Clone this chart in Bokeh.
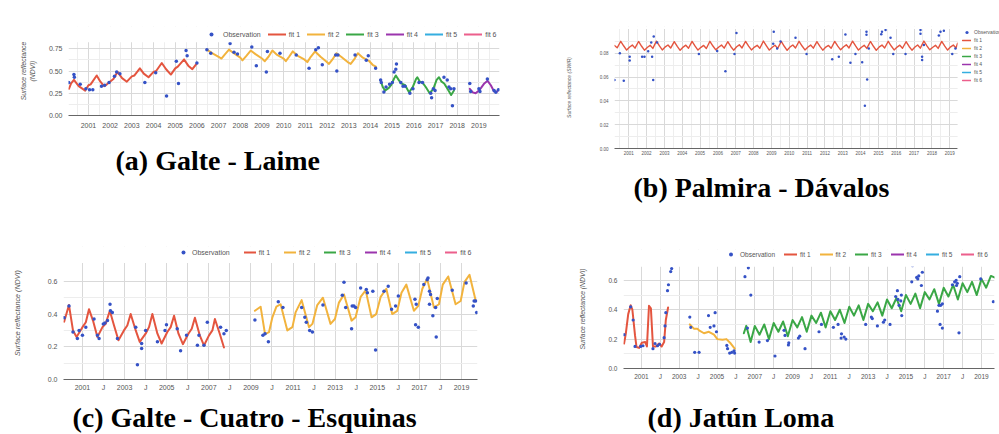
from bokeh.plotting import figure
from bokeh.layouts import column, row
from bokeh.models import Range1d, FixedTicker, Legend, LegendItem, BoxAnnotation
from bokeh.core.properties import value
from bokeh.embed import file_html
from bokeh.resources import INLINE

NAN = float("nan")
OBS_COLOR = "#3552c6"
FIT_COLORS = ["#e4553f", "#f2b33d", "#3aa746", "#9b35ad", "#35aee0", "#ec5f8c"]
FIT_LABELS = ["fit 1", "fit 2", "fit 3", "fit 4", "fit 5", "fit 6"]
YEARS = list(range(2001, 2020))
YEAR_LABELS_FULL = [str(y) for y in YEARS]
YEAR_LABELS_ALT = ["2001", "J", "2003", "J", "2005", "J", "2007", "J", "2009", "J",
                   "2011", "J", "2013", "J", "2015", "J", "2017", "J", "2019"]

# ---------------- (a) Galte - Laime ----------------
A_TITLE = "(a)  Galte - Laime"
A_YLABEL = "Surface reflectance\n(NDVI)"
A_YTICKS = [0.0, 0.25, 0.5, 0.75]
A_YTICK_LABELS = ["0.00", "0.25", "0.50", "0.75"]
A_FIT1_T = [2000.10, 2000.20, 2000.33, 2000.55, 2000.85, 2001.00, 2001.10, 2001.38, 2001.55, 2001.72,
            2001.85, 2002.05, 2002.15, 2002.34, 2002.55, 2002.77, 2003.00, 2003.12, 2003.37, 2003.55,
            2003.77, 2004.00, 2004.12, 2004.38, 2004.58, 2004.80, 2005.00, 2005.12, 2005.41, 2005.60,
            2005.79, 2005.98]
A_FIT1_V = [0.30, 0.36, 0.40, 0.33, 0.28, 0.34, 0.35, 0.45, 0.38, 0.33,
            0.35, 0.39, 0.41, 0.49, 0.42, 0.38, 0.44, 0.45, 0.53, 0.47,
            0.43, 0.49, 0.50, 0.59, 0.52, 0.46, 0.53, 0.55, 0.63, 0.56,
            0.52, 0.58]
A_FIT2_T = [2006.46, 2006.70, 2007.00, 2007.13, 2007.30, 2007.48, 2007.70, 2008.00, 2008.10, 2008.28,
            2008.48, 2008.70, 2009.00, 2009.13, 2009.30, 2009.48, 2009.70, 2010.00, 2010.10, 2010.25,
            2010.42, 2010.65, 2010.95, 2011.09, 2011.25, 2011.45, 2011.70, 2011.95, 2012.09, 2012.25,
            2012.43, 2012.65, 2012.95, 2013.09, 2013.25, 2013.42, 2013.65, 2013.95, 2014.10, 2014.25]
A_FIT2_V = [0.74, 0.70, 0.66, 0.64, 0.69, 0.74, 0.70, 0.65, 0.62, 0.67,
            0.73, 0.69, 0.64, 0.61, 0.66, 0.73, 0.68, 0.64, 0.61, 0.66,
            0.72, 0.67, 0.63, 0.60, 0.66, 0.72, 0.66, 0.61, 0.58, 0.63,
            0.70, 0.66, 0.60, 0.58, 0.63, 0.70, 0.65, 0.61, 0.57, 0.55]
A_FIT3_T = [2014.47, 2014.57, 2014.67, 2014.85, 2014.95, 2015.10, 2015.17, 2015.30, 2015.42, 2015.60,
            2015.78, 2015.95, 2016.10, 2016.16, 2016.28, 2016.40, 2016.55, 2016.73, 2016.90, 2017.05,
            2017.16, 2017.28, 2017.40, 2017.55, 2017.72, 2017.85]
A_FIT3_V = [0.39, 0.32, 0.28, 0.31, 0.34, 0.42, 0.45, 0.40, 0.36, 0.34,
            0.26, 0.32, 0.41, 0.43, 0.38, 0.37, 0.32, 0.25, 0.30, 0.40,
            0.43, 0.38, 0.36, 0.30, 0.23, 0.28]
A_FIT4_T = [2018.58, 2018.72, 2018.85, 2019.00, 2019.10, 2019.25, 2019.40, 2019.55, 2019.70, 2019.85]
A_FIT4_V = [0.30, 0.26, 0.25, 0.28, 0.31, 0.36, 0.39, 0.34, 0.27, 0.27]
A_OBS_T = [2000.09, 2000.33, 2000.35, 2000.62, 2000.88, 2001.05, 2001.20, 2001.60, 2001.75, 2001.95,
           2002.20, 2002.30, 2002.45, 2003.60, 2004.10, 2004.60, 2005.05, 2005.15, 2005.50, 2005.55,
           2006.00,
           2006.46, 2006.64, 2007.53, 2007.71, 2007.87, 2008.53, 2008.74, 2009.20, 2009.25, 2009.83,
           2010.58, 2011.17, 2011.48, 2011.60, 2011.78, 2012.40, 2012.45, 2012.50, 2013.29, 2013.81,
           2013.90, 2014.24,
           2014.47, 2014.50, 2014.62, 2014.72, 2014.88, 2015.01, 2015.09, 2015.17, 2015.20, 2015.40,
           2015.50, 2015.60, 2015.82, 2015.96, 2016.24, 2016.40, 2016.78, 2016.82, 2016.90, 2016.98,
           2017.39, 2017.54, 2017.62, 2017.70, 2017.85, 2017.78,
           2018.58, 2018.62, 2019.00, 2019.05, 2019.39, 2019.70, 2019.78, 2019.90]
A_OBS_V = [0.37, 0.46, 0.43, 0.35, 0.30, 0.29, 0.29, 0.33, 0.34, 0.37,
           0.44, 0.49, 0.47, 0.37, 0.48, 0.22, 0.61, 0.36, 0.73, 0.67,
           0.59,
           0.74, 0.70, 0.81, 0.71, 0.69, 0.77, 0.56, 0.49, 0.72, 0.70,
           0.68, 0.53, 0.74, 0.76, 0.57, 0.68, 0.50, 0.68, 0.68, 0.62,
           0.67, 0.53,
           0.40, 0.37, 0.265, 0.32, 0.35, 0.37, 0.49, 0.52, 0.58, 0.37,
           0.33, 0.33, 0.25, 0.30, 0.37, 0.37, 0.25, 0.20, 0.30, 0.28,
           0.43, 0.40, 0.32, 0.30, 0.30, 0.11,
           0.36, 0.27, 0.30, 0.27, 0.41, 0.28, 0.26, 0.29]

# ---------------- (b) Palmira - Dávalos ----------------
B_TITLE = "(b) Palmira - Dávalos"
B_YLABEL = "Surface reflectance (SWIR)"
B_YTICKS = [0.0, 0.02, 0.04, 0.06, 0.08]
B_YTICK_LABELS = ["0.00", "0.02", "0.04", "0.06", "0.08"]
B_FIT1_T = [2000.20, 2000.35, 2000.55, 2000.72, 2000.88,
            2001.05, 2001.20, 2001.35, 2001.55, 2001.72, 2001.88,
            2002.05, 2002.20, 2002.35, 2002.55, 2002.72, 2002.88,
            2003.05, 2003.20, 2003.35, 2003.55, 2003.72, 2003.88,
            2004.05, 2004.20, 2004.35, 2004.55, 2004.72, 2004.88,
            2005.05, 2005.20, 2005.35, 2005.55, 2005.72, 2005.88,
            2006.05, 2006.20, 2006.35, 2006.55, 2006.72, 2006.88,
            2007.05, 2007.20, 2007.35, 2007.55, 2007.72, 2007.88,
            2008.05, 2008.20, 2008.35, 2008.55, 2008.72, 2008.88,
            2009.05, 2009.20, 2009.35, 2009.55, 2009.72, 2009.88,
            2010.05, 2010.20, 2010.35, 2010.55, 2010.72, 2010.88,
            2011.05, 2011.20, 2011.35, 2011.55, 2011.72, 2011.88,
            2012.05, 2012.20, 2012.35, 2012.55, 2012.72, 2012.88,
            2013.05, 2013.20, 2013.35, 2013.55, 2013.72, 2013.88,
            2014.05, 2014.20, 2014.35, 2014.55, 2014.72, 2014.88,
            2015.05, 2015.20, 2015.35, 2015.55, 2015.72, 2015.88,
            2016.05, 2016.20, 2016.35, 2016.55, 2016.72, 2016.88,
            2017.05, 2017.20, 2017.35, 2017.55, 2017.72, 2017.88,
            2018.05, 2018.20, 2018.35, 2018.55, 2018.72, 2018.88,
            2019.05, 2019.20, 2019.35, 2019.44]
B_FIT1_V = [0.0866, 0.0846, 0.0901, 0.0861, 0.0827,
            0.0853, 0.0869, 0.0843, 0.0899, 0.0859, 0.0826,
            0.0851, 0.0867, 0.0841, 0.0902, 0.0862, 0.0828,
            0.0854, 0.0870, 0.0844, 0.0898, 0.0858, 0.0825,
            0.0852, 0.0868, 0.0842, 0.0900, 0.0860, 0.0827,
            0.0850, 0.0866, 0.0840, 0.0901, 0.0861, 0.0829,
            0.0853, 0.0869, 0.0843, 0.0897, 0.0857, 0.0826,
            0.0855, 0.0871, 0.0845, 0.0900, 0.0860, 0.0828,
            0.0852, 0.0867, 0.0842, 0.0903, 0.0863, 0.0827,
            0.0851, 0.0868, 0.0841, 0.0899, 0.0859, 0.0825,
            0.0854, 0.0870, 0.0844, 0.0901, 0.0861, 0.0828,
            0.0853, 0.0869, 0.0843, 0.0898, 0.0858, 0.0826,
            0.0852, 0.0866, 0.0842, 0.0900, 0.0860, 0.0829,
            0.0855, 0.0871, 0.0845, 0.0902, 0.0862, 0.0827,
            0.0851, 0.0867, 0.0841, 0.0899, 0.0859, 0.0825,
            0.0854, 0.0869, 0.0844, 0.0901, 0.0861, 0.0828,
            0.0852, 0.0868, 0.0842, 0.0897, 0.0857, 0.0826,
            0.0853, 0.0870, 0.0843, 0.0903, 0.0863, 0.0829,
            0.0851, 0.0867, 0.0841, 0.0900, 0.0860, 0.0827,
            0.0854, 0.0869, 0.0844, 0.0885]
B_OBS_T = [2000.20, 2000.50, 2000.72, 2001.05, 2001.05, 2001.75, 2001.88, 2002.09, 2002.26, 2002.40,
           2002.31, 2002.37, 2002.59, 2004.93, 2005.96, 2006.42, 2006.93, 2007.04, 2009.13, 2009.10,
           2009.32, 2009.51, 2010.35, 2010.97, 2012.41, 2012.78, 2013.15, 2013.43, 2013.71, 2014.09,
           2014.33, 2014.33, 2014.37, 2014.46, 2014.24, 2015.16, 2015.20, 2015.40, 2015.68, 2015.83,
           2016.52, 2017.36, 2017.36, 2017.45, 2017.45, 2017.55, 2018.39, 2018.48, 2018.67, 2019.14,
           2019.32]
B_OBS_V = [0.0576, 0.080, 0.057, 0.077, 0.074, 0.077, 0.077, 0.0817, 0.089, 0.094,
           0.077, 0.0576, 0.089, 0.0795, 0.082, 0.065, 0.0795, 0.097, 0.098, 0.088,
           0.084, 0.090, 0.093, 0.0795, 0.075, 0.077, 0.0957, 0.072, 0.0795, 0.0724,
           0.098, 0.0955, 0.058, 0.084, 0.036, 0.096, 0.098, 0.0995, 0.093, 0.0795,
           0.0795, 0.0995, 0.0965, 0.077, 0.0744, 0.087, 0.095, 0.098, 0.099, 0.0795,
           0.084]

# ---------------- (c) Galte - Cuatro - Esquinas ----------------
C_TITLE = "(c) Galte - Cuatro - Esquinas"
C_YLABEL = "Surface reflectance (NDVI)"
C_YTICKS = [0.0, 0.2, 0.4, 0.6]
C_YTICK_LABELS = ["0.0", "0.2", "0.4", "0.6"]
C_FIT1_T = [2000.13, 2000.36, 2000.55, 2000.72, 2001.00, 2001.16, 2001.31, 2001.50, 2001.71, 2001.95,
            2002.10, 2002.30, 2002.50, 2002.71, 2002.97, 2003.13, 2003.29, 2003.53, 2003.72, 2004.00,
            2004.16, 2004.32, 2004.56, 2004.76, 2005.03, 2005.19, 2005.35, 2005.56, 2005.77, 2006.03,
            2006.19, 2006.34, 2006.57, 2006.77, 2007.01, 2007.17, 2007.29, 2007.52, 2007.72]
C_FIT1_V = [0.353, 0.455, 0.30, 0.26, 0.32, 0.35, 0.43, 0.36, 0.26, 0.32,
            0.34, 0.42, 0.33, 0.24, 0.30, 0.33, 0.40, 0.30, 0.23, 0.28,
            0.32, 0.40, 0.28, 0.22, 0.29, 0.32, 0.39, 0.28, 0.216, 0.28,
            0.31, 0.378, 0.27, 0.208, 0.27, 0.30, 0.37, 0.28, 0.196]
C_FIT2_T = [2009.19, 2009.46, 2009.67, 2009.86, 2010.02, 2010.21, 2010.41, 2010.73, 2010.97, 2011.12,
            2011.41, 2011.76, 2011.92, 2012.15, 2012.42, 2012.78, 2012.99, 2013.18, 2013.42, 2013.78,
            2013.97, 2014.21, 2014.45, 2014.73, 2014.95, 2015.16, 2015.43, 2015.71, 2015.95, 2016.15,
            2016.38, 2016.74, 2016.95, 2017.14, 2017.37, 2017.69, 2017.93, 2018.11, 2018.37, 2018.72,
            2018.96, 2019.14, 2019.38, 2019.67]
C_FIT2_V = [0.42, 0.445, 0.277, 0.29, 0.38, 0.445, 0.46, 0.30, 0.32, 0.41,
            0.485, 0.32, 0.34, 0.455, 0.50, 0.34, 0.37, 0.47, 0.52, 0.36,
            0.38, 0.505, 0.545, 0.38, 0.40, 0.505, 0.555, 0.40, 0.42, 0.53,
            0.58, 0.42, 0.45, 0.555, 0.615, 0.44, 0.46, 0.58, 0.63, 0.46,
            0.48, 0.595, 0.64, 0.485]
C_OBS_T = [2000.13, 2000.36, 2000.55, 2000.76, 2000.84, 2001.00, 2001.16, 2001.55, 2001.71, 2001.79,
           2001.99, 2002.07, 2002.19, 2002.31, 2002.33, 2002.42, 2002.66, 2003.53, 2003.81, 2003.81,
           2003.61, 2004.00, 2004.56, 2004.92, 2004.99, 2005.50, 2005.66, 2005.94, 2006.46, 2006.53,
           2006.77, 2006.93, 2007.56, 2007.72, 2007.83,
           2009.19, 2009.57, 2009.67, 2009.83, 2010.30, 2010.52, 2011.41, 2011.56, 2011.63, 2011.79,
           2011.92, 2012.42, 2013.34, 2013.42, 2013.50, 2013.78, 2013.81, 2013.89, 2013.97, 2014.21,
           2014.48, 2014.53, 2014.79, 2014.92, 2015.32, 2015.52, 2015.68, 2015.87, 2016.00, 2016.79,
           2016.82, 2016.95, 2016.85, 2017.21, 2017.37, 2017.41, 2017.48, 2017.53, 2017.48, 2017.64,
           2017.77, 2017.80, 2017.85, 2018.56, 2019.22, 2019.56, 2019.60, 2019.67, 2019.72]
C_OBS_V = [0.378, 0.45, 0.29, 0.25, 0.30, 0.27, 0.32, 0.37, 0.27, 0.25,
           0.34, 0.345, 0.36, 0.46, 0.42, 0.41, 0.25, 0.32, 0.22, 0.19,
           0.09, 0.30, 0.23, 0.30, 0.335, 0.31, 0.175, 0.27, 0.21, 0.27,
           0.21, 0.35, 0.32, 0.28, 0.30,
           0.364, 0.27, 0.28, 0.23, 0.475, 0.44, 0.44, 0.38, 0.35, 0.30,
           0.29, 0.455, 0.515, 0.595, 0.44, 0.31, 0.45, 0.45, 0.44, 0.56,
           0.55, 0.53, 0.54, 0.18, 0.54, 0.57, 0.43, 0.45, 0.51, 0.49,
           0.335, 0.32, 0.46, 0.58, 0.61, 0.62, 0.54, 0.52, 0.46, 0.39,
           0.44, 0.26, 0.495, 0.545, 0.59, 0.45, 0.48, 0.48, 0.41]

# ---------------- (d) Jatún Loma ----------------
D_TITLE = "(d) Jatún Loma"
D_YLABEL = "Surface reflectance (NDVI)"
D_YTICKS = [0.0, 0.2, 0.4, 0.6]
D_YTICK_LABELS = ["0.0", "0.2", "0.4", "0.6"]
D_FIT1_T = [2000.08, 2000.17, 2000.30, 2000.43, 2000.52, 2000.66, 2000.74, 2000.87, 2001.02, 2001.20,
            2001.29, 2001.40, 2001.50, 2001.61, 2001.76, 2001.93, 2002.07, 2002.20, 2002.29, 2002.41]
D_FIT1_V = [0.17, 0.236, 0.37, 0.43, 0.40, 0.225, 0.146, 0.14, 0.175, 0.18,
            0.15, 0.427, 0.41, 0.15, 0.15, 0.17, 0.15, 0.18, 0.33, 0.415]
D_FIT2_T = [2003.56, 2003.79, 2003.96, 2004.05, 2004.31, 2004.57, 2004.84, 2005.02, 2005.29, 2005.50,
            2005.73, 2005.94]
D_FIT2_V = [0.30, 0.27, 0.27, 0.26, 0.24, 0.25, 0.23, 0.20, 0.195, 0.20,
            0.17, 0.135]
D_FIT3_T = [2006.42, 2006.55, 2006.78,
            2007.00, 2007.25, 2007.50, 2007.75, 2008.00, 2008.25, 2008.50, 2008.75,
            2009.00, 2009.25, 2009.50, 2009.75, 2010.00, 2010.25, 2010.50, 2010.75,
            2011.00, 2011.25, 2011.50, 2011.75, 2012.00, 2012.25, 2012.50, 2012.75,
            2013.00, 2013.25, 2013.50, 2013.75, 2014.00, 2014.25, 2014.50, 2014.75,
            2015.00, 2015.25, 2015.50, 2015.75, 2016.00, 2016.25, 2016.50, 2016.75,
            2017.00, 2017.25, 2017.50, 2017.75, 2018.00, 2018.25, 2018.50, 2018.75,
            2019.00, 2019.25, 2019.50, 2019.68]
D_FIT3_V = [0.24, 0.29, 0.18,
            0.29, 0.23, 0.30, 0.20, 0.31, 0.25, 0.32, 0.22,
            0.33, 0.28, 0.35, 0.25, 0.36, 0.31, 0.38, 0.28,
            0.39, 0.33, 0.40, 0.31, 0.42, 0.36, 0.43, 0.33,
            0.44, 0.39, 0.45, 0.36, 0.47, 0.41, 0.48, 0.39,
            0.50, 0.44, 0.51, 0.41, 0.52, 0.47, 0.54, 0.44,
            0.55, 0.49, 0.57, 0.47, 0.58, 0.52, 0.59, 0.50,
            0.61, 0.55, 0.63, 0.62]
D_OBS_T = [2000.08, 2000.43, 2000.56, 2000.66, 2000.96, 2001.08, 2001.61, 2001.72, 2001.85, 2001.96,
           2002.20, 2002.25, 2002.29, 2002.38, 2002.43, 2002.55, 2002.60,
           2003.56, 2003.61, 2003.82, 2004.05, 2004.55, 2004.64, 2004.84, 2004.90, 2004.97, 2005.52,
           2005.56, 2005.67, 2005.78, 2005.90, 2005.93,
           2006.48, 2006.66, 2006.79, 2006.61, 2007.23, 2007.67, 2008.07, 2008.55, 2008.60, 2008.78,
           2008.80, 2009.31, 2009.38, 2009.66, 2010.40, 2010.53, 2011.16, 2011.41, 2011.59, 2011.57,
           2011.73, 2011.82, 2012.87, 2013.17, 2013.22, 2013.49, 2013.81, 2013.88, 2014.16, 2014.46,
           2014.55, 2014.58, 2014.64, 2014.73, 2014.76, 2014.78, 2015.35, 2015.31, 2015.57, 2015.63,
           2015.68, 2015.82, 2015.87, 2016.67, 2016.75, 2016.84, 2016.93, 2016.81, 2016.93, 2017.46,
           2017.58, 2017.66, 2017.72, 2017.68, 2017.81, 2017.85, 2018.96, 2019.63]
D_OBS_V = [0.23, 0.42, 0.33, 0.15, 0.15, 0.155, 0.135, 0.17, 0.155, 0.165,
           0.21, 0.29, 0.38, 0.53, 0.57, 0.66, 0.68,
           0.35, 0.28, 0.11, 0.11, 0.36, 0.28, 0.29, 0.38, 0.25, 0.157,
           0.135, 0.105, 0.11, 0.12, 0.105,
           0.625, 0.685, 0.50, 0.275, 0.18, 0.19, 0.085, 0.26, 0.225, 0.16,
           0.175, 0.207, 0.22, 0.135, 0.25, 0.30, 0.28, 0.30, 0.236, 0.207,
           0.214, 0.20, 0.30, 0.35, 0.34, 0.29, 0.315, 0.33, 0.30, 0.49,
           0.53, 0.47, 0.43, 0.46, 0.50, 0.36, 0.70, 0.59, 0.62, 0.61,
           0.63, 0.565, 0.655, 0.39, 0.43, 0.43, 0.44, 0.30, 0.275, 0.57,
           0.59, 0.60, 0.58, 0.565, 0.243, 0.625, 0.61, 0.455]

HALF_YEARS = [2000.5, 2001.5, 2002.5, 2003.5, 2004.5, 2005.5, 2006.5, 2007.5, 2008.5, 2009.5,
              2010.5, 2011.5, 2012.5, 2013.5, 2014.5, 2015.5, 2016.5, 2017.5, 2018.5, 2019.5]


def build(cfg):
    p = figure(width=cfg["w"], height=cfg["h"],
               x_range=Range1d(*cfg["xr"]), y_range=Range1d(*cfg["yr"]),
               output_backend="svg", toolbar_location=None,
               min_border_left=cfg["bl"], min_border_right=cfg["br"],
               min_border_top=cfg["bt"], min_border_bottom=cfg["bb"])
    p.outline_line_color = None
    p.background_fill_color = "white"
    p.border_fill_color = "white"

    xa = p.xaxis[0]
    xa.ticker = FixedTicker(ticks=YEARS)
    xa.major_label_overrides = {y: l for y, l in zip(YEARS, cfg["xlabels"])}
    xa.bounds = cfg["xbounds"]
    xa.axis_line_color = "#666666"
    xa.axis_line_width = 1
    xa.major_tick_line_color = None
    xa.minor_tick_line_color = None
    xa.major_tick_out = 0
    xa.major_tick_in = 0
    xa.minor_tick_out = 0
    xa.major_label_standoff = cfg["xstand"]
    xa.major_label_text_font = "Liberation Sans"
    xa.major_label_text_font_size = cfg["tick_fs"]
    xa.major_label_text_color = "#555555"

    ya = p.yaxis[0]
    ya.ticker = FixedTicker(ticks=cfg["yticks"])
    ya.major_label_overrides = {t: l for t, l in zip(cfg["yticks"], cfg["yticklabels"])}
    ya.bounds = (0, cfg["ytop"])
    ya.axis_line_color = None
    ya.major_tick_line_color = None
    ya.minor_tick_line_color = None
    ya.major_tick_out = 0
    ya.major_tick_in = 0
    ya.minor_tick_out = 0
    ya.major_label_standoff = 6
    ya.major_label_text_font = "Liberation Sans"
    ya.major_label_text_font_size = cfg["tick_fs"]
    ya.major_label_text_color = "#555555"
    ya.axis_label = cfg["ylabel"]
    ya.axis_label_standoff = cfg["ylab_stand"]
    ya.axis_label_text_font = "Liberation Sans"
    ya.axis_label_text_font_style = "italic"
    ya.axis_label_text_font_size = cfg["ylab_fs"]
    ya.axis_label_text_color = "#555555"

    p.xgrid.ticker = FixedTicker(ticks=YEARS, minor_ticks=cfg["xminor"])
    p.xgrid.grid_line_color = "#d9d9d9"
    p.xgrid.minor_grid_line_color = "#eeeeee" if cfg["xminor"] else None
    p.ygrid.ticker = FixedTicker(ticks=cfg["yticks"], minor_ticks=cfg["yminor"])
    p.ygrid.grid_line_color = "#d9d9d9"
    p.ygrid.minor_grid_line_color = "#ededed"

    fit_r = []
    for i in range(6):
        if i < len(cfg["fits"]):
            t, v = cfg["fits"][i]
        else:
            t, v = [NAN], [NAN]   # series absent in this panel: legend entry only
        r = p.line(x=t, y=v, line_color=FIT_COLORS[i], line_width=cfg["lw"],
                   line_join="round", line_cap="round")
        fit_r.append(r)
    obs = p.scatter(x=cfg["obs_t"], y=cfg["obs_v"], size=cfg["dot"],
                    fill_color=OBS_COLOR, line_color=None)

    # white cover over the legend band (outside the data area)
    p.add_layout(BoxAnnotation(bottom=cfg["ytop"] * 1.004, fill_color="white",
                               fill_alpha=1.0, line_color=None))
    if cfg.get("xcover") is not None:
        p.add_layout(BoxAnnotation(left=cfg["xcover"], fill_color="white",
                                   fill_alpha=1.0, line_color=None))

    items = [LegendItem(label="Observation", renderers=[obs])]
    items += [LegendItem(label=FIT_LABELS[i], renderers=[fit_r[i]]) for i in range(6)]
    leg = Legend(items=items, location=cfg["leg_loc"], orientation=cfg["leg_orient"],
                 glyph_width=cfg["leg_gw"], glyph_height=cfg["leg_h"], label_height=cfg["leg_h"],
                 label_width=0,
                 label_text_font="Liberation Sans", label_text_font_size=cfg["leg_fs"],
                 label_text_color="#555555", label_standoff=cfg["leg_stand"], spacing=cfg["leg_sp"],
                 padding=0, margin=0, border_line_color=None, background_fill_alpha=0)
    p.add_layout(leg, "center")
    return p


def caption(main_cfg, h, lx, cy, text):
    # same side borders as the chart above it, so the frames line up in the column;
    # coordinates are pixels measured from that frame's left edge
    fw = main_cfg["w"] - main_cfg["bl"] - main_cfg["br"]
    c = figure(width=main_cfg["w"], height=h, x_range=Range1d(0, fw), y_range=Range1d(0, h),
               x_axis_type=None, y_axis_type=None, output_backend="svg", toolbar_location=None,
               min_border_left=main_cfg["bl"], min_border_right=main_cfg["br"],
               min_border_top=0, min_border_bottom=0)
    c.outline_line_color = None
    c.grid.visible = False
    c.text(x=[lx], y=[cy], text=[text], text_font=value("Liberation Serif"),
           text_font_style="bold", text_font_size="28px", text_color="#000000",
           text_align="left", text_baseline="middle")
    return c


A_CFG = dict(w=535, h=132, xr=(2000.08, 2019.95), yr=(0, 1.0), ytop=0.82,
             bl=68, br=36, bt=26, bb=17, xbounds="auto",
             xlabels=YEAR_LABELS_FULL, xstand=7, tick_fs="7px", yticks=A_YTICKS,
             yticklabels=A_YTICK_LABELS, xminor=HALF_YEARS, yminor=[0.125, 0.375, 0.625],
             fits=[(A_FIT1_T, A_FIT1_V), (A_FIT2_T, A_FIT2_V), (A_FIT3_T, A_FIT3_V), (A_FIT4_T, A_FIT4_V)],
             lw=2, obs_t=A_OBS_T, obs_v=A_OBS_V, dot=3.5,
             leg_loc=(134, 76), leg_orient="horizontal", leg_gw=18, leg_h=10,
             leg_fs="7px", leg_sp=7, leg_stand=3,
             ylabel=A_YLABEL, ylab_stand=10, ylab_fs="6.8px")
B_CFG = dict(w=464, h=158, xr=(2000.2, 2021.79), yr=(0, 0.1025), ytop=0.10,
             bl=79, br=0, bt=26, bb=10, xbounds=(2000.2, 2019.44), xcover=2019.44,
             xlabels=YEAR_LABELS_FULL, xstand=2, tick_fs="4.5px", yticks=B_YTICKS,
             yticklabels=B_YTICK_LABELS, xminor=HALF_YEARS, yminor=[0.01, 0.03, 0.05, 0.07, 0.09],
             fits=[(B_FIT1_T, B_FIT1_V)],
             lw=1.4, obs_t=B_OBS_T, obs_v=B_OBS_V, dot=2.5,
             leg_loc=(348, 64), leg_orient="vertical", leg_gw=9, leg_h=8,
             leg_fs="5px", leg_sp=0, leg_stand=3,
             ylabel=B_YLABEL, ylab_stand=25, ylab_fs="5px")
C_CFG = dict(w=535, h=175, xr=(2000.1, 2019.76), yr=(0, 0.813), ytop=0.71,
             bl=63, br=58, bt=28, bb=13, xbounds="auto",
             xlabels=YEAR_LABELS_ALT, xstand=4, tick_fs="7px", yticks=C_YTICKS,
             yticklabels=C_YTICK_LABELS, xminor=[], yminor=[0.1, 0.3, 0.5],
             fits=[(C_FIT1_T, C_FIT1_V), (C_FIT2_T, C_FIT2_V)],
             lw=2, obs_t=C_OBS_T, obs_v=C_OBS_V, dot=3.5,
             leg_loc=(114, 122), leg_orient="horizontal", leg_gw=12, leg_h=10,
             leg_fs="7px", leg_sp=14, leg_stand=3,
             ylabel=C_YLABEL, ylab_stand=23, ylab_fs="7.2px")
D_CFG = dict(w=464, h=164, xr=(2000.05, 2019.69), yr=(0, 0.81), ytop=0.69,
             bl=88, br=5, bt=31, bb=12, xbounds="auto",
             xlabels=YEAR_LABELS_ALT, xstand=4, tick_fs="6.5px", yticks=D_YTICKS,
             yticklabels=D_YTICK_LABELS, xminor=[], yminor=[0.1, 0.3, 0.5],
             fits=[(D_FIT1_T, D_FIT1_V), (D_FIT2_T, D_FIT2_V), (D_FIT3_T, D_FIT3_V)],
             lw=2, obs_t=D_OBS_T, obs_v=D_OBS_V, dot=3.2,
             leg_loc=(101, 109), leg_orient="horizontal", leg_gw=13, leg_h=10,
             leg_fs="6.5px", leg_sp=9, leg_stand=3,
             ylabel=D_YLABEL, ylab_stand=19, ylab_fs="6.8px")

pa = build(A_CFG)
ca = caption(A_CFG, 86, 47, 58, A_TITLE)
pb = build(B_CFG)
cb = caption(B_CFG, 60, 19, 31, B_TITLE)
pc = build(C_CFG)
cc = caption(C_CFG, 41, 9, 17, C_TITLE)
pd = build(D_CFG)
cd = caption(D_CFG, 52, 24, 17, D_TITLE)

layout = column(row(column(pa, ca), column(pb, cb)), row(column(pc, cc), column(pd, cd)))
open("out.html", "w").write(file_html(layout, INLINE))
